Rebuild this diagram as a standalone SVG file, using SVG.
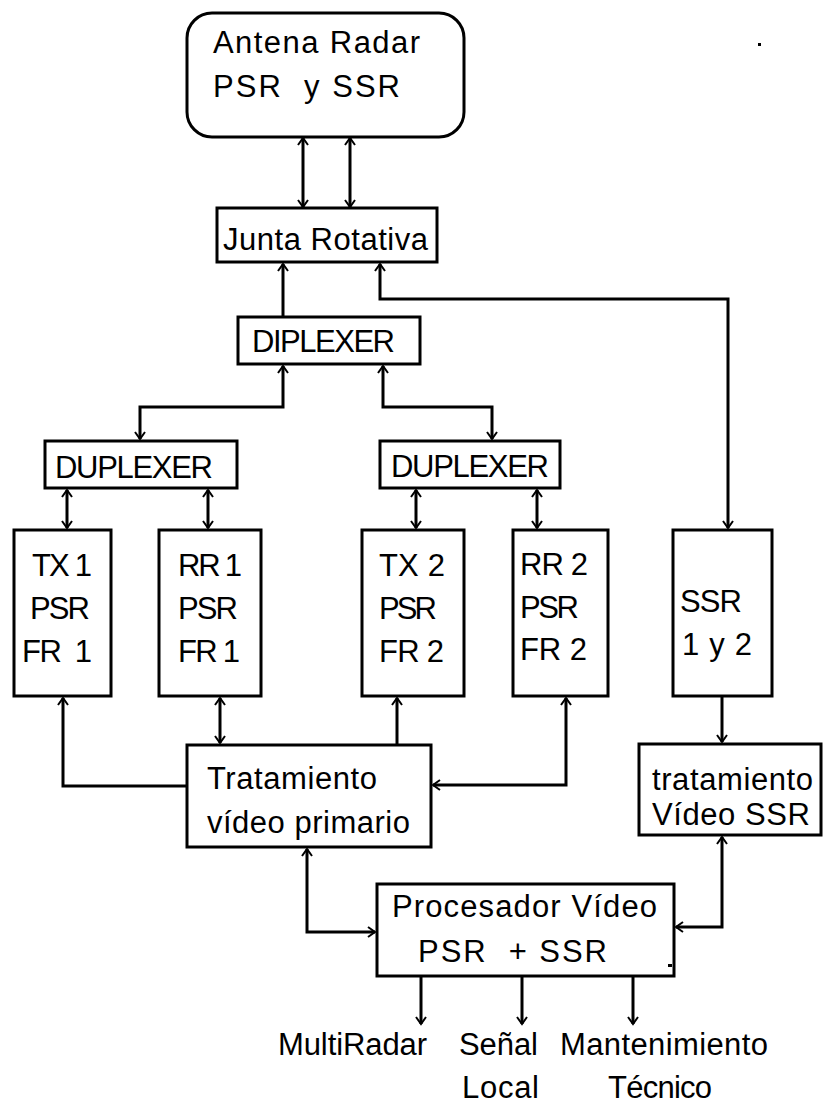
<svg xmlns="http://www.w3.org/2000/svg" width="823" height="1104" viewBox="0 0 823 1104">
<style>
.box{fill:#fff;stroke:#000;stroke-width:3}
.t{font-family:"Liberation Sans",Arial,sans-serif;font-size:31px;fill:#000;white-space:pre}
.c{fill:none;stroke:#000;stroke-width:3}
.a{marker-end:url(#ah)}
.b{marker-start:url(#ah);marker-end:url(#ah)}
</style>
<defs>
<marker id="ah" viewBox="-10 -8 12 16" refX="0" refY="0" markerWidth="12" markerHeight="16" markerUnits="userSpaceOnUse" orient="auto-start-reverse" overflow="visible">
<path d="M-7,-5 L0,0 L-7,5" fill="none" stroke="#000" stroke-width="2"/>
</marker>
</defs>
<rect width="823" height="1104" fill="#fff"/>

<g id="connectors">
<path class="c b" d="M303,138 V207"/>
<path class="c b" d="M350,138 V207"/>
<path class="c a" d="M283,317 V264"/>
<path class="c b" d="M380,264 V299 H728 V528"/>
<path class="c b" d="M283,366 V407 H140 V439"/>
<path class="c b" d="M383,366 V407 H492 V439"/>
<path class="c b" d="M67,490 V528"/>
<path class="c b" d="M208,490 V528"/>
<path class="c b" d="M416,490 V528"/>
<path class="c b" d="M537,490 V528"/>
<path class="c a" d="M187,786 H63 V698"/>
<path class="c b" d="M220,698 V743"/>
<path class="c a" d="M397,745 V698"/>
<path class="c b" d="M566,698 V785 H433"/>
<path class="c a" d="M722,696 V742"/>
<path class="c b" d="M307,849 V932 H375"/>
<path class="c b" d="M722,837 V927 H676"/>
<path class="c a" d="M421,976 V1024"/>
<path class="c a" d="M522,976 V1024"/>
<path class="c a" d="M633,976 V1024"/>
</g>

<g id="antena">
<rect class="box" x="187" y="13" width="277" height="124" rx="25" ry="25"/>
<text class="t" x="213" y="53" textLength="207" lengthAdjust="spacing">Antena Radar</text>
<text class="t" x="213" y="97" textLength="187" lengthAdjust="spacing">PSR  y SSR</text>
</g>
<rect x="758" y="43" width="3" height="3" fill="#000"/>

<g id="junta">
<rect class="box" x="217" y="208" width="220" height="54"/>
<text class="t" x="223" y="250" textLength="205" lengthAdjust="spacing">Junta Rotativa</text>
</g>

<g id="diplexer">
<rect class="box" x="238" y="317" width="182" height="47"/>
<text class="t" x="252" y="352" textLength="143" lengthAdjust="spacing">DIPLEXER</text>
</g>

<g id="duplexer1">
<rect class="box" x="45" y="441" width="192" height="47"/>
<text class="t" x="55" y="478" textLength="158" lengthAdjust="spacing">DUPLEXER</text>
</g>

<g id="duplexer2">
<rect class="box" x="380" y="441" width="180" height="47"/>
<text class="t" x="391" y="477" textLength="158" lengthAdjust="spacing">DUPLEXER</text>
</g>

<g id="tx1">
<rect class="box" x="14" y="530" width="97" height="166"/>
<text class="t" x="32" y="576" textLength="60" lengthAdjust="spacing">TX 1</text>
<text class="t" x="30" y="619" textLength="60" lengthAdjust="spacing">PSR</text>
<text class="t" x="22" y="662" textLength="70" lengthAdjust="spacing">FR  1</text>
</g>

<g id="rr1">
<rect class="box" x="159" y="530" width="102" height="166"/>
<text class="t" x="178" y="576" textLength="64" lengthAdjust="spacing">RR 1</text>
<text class="t" x="178" y="619" textLength="60" lengthAdjust="spacing">PSR</text>
<text class="t" x="178" y="662" textLength="62" lengthAdjust="spacing">FR 1</text>
</g>

<g id="tx2">
<rect class="box" x="362" y="530" width="102" height="166"/>
<text class="t" x="379" y="576" textLength="66" lengthAdjust="spacing">TX 2</text>
<text class="t" x="379" y="619" textLength="58" lengthAdjust="spacing">PSR</text>
<text class="t" x="379" y="662" textLength="65" lengthAdjust="spacing">FR 2</text>
</g>

<g id="rr2">
<rect class="box" x="513" y="530" width="95" height="166"/>
<text class="t" x="520" y="575" textLength="68" lengthAdjust="spacing">RR 2</text>
<text class="t" x="520" y="618" textLength="59" lengthAdjust="spacing">PSR</text>
<text class="t" x="520" y="660" textLength="67" lengthAdjust="spacing">FR 2</text>
</g>

<g id="ssr">
<rect class="box" x="673" y="530" width="99" height="166"/>
<text class="t" x="680" y="612" textLength="62" lengthAdjust="spacing">SSR</text>
<text class="t" x="682" y="655" textLength="70" lengthAdjust="spacing">1 y 2</text>
</g>

<g id="tratamiento-primario">
<rect class="box" x="187" y="745" width="244" height="102"/>
<text class="t" x="207" y="789" textLength="170" lengthAdjust="spacing">Tratamiento</text>
<text class="t" x="207" y="833" textLength="203" lengthAdjust="spacing">vídeo primario</text>
</g>

<g id="tratamiento-ssr">
<rect class="box" x="639" y="744" width="182" height="91"/>
<text class="t" x="652" y="790" textLength="161" lengthAdjust="spacing">tratamiento</text>
<text class="t" x="652" y="825" textLength="158" lengthAdjust="spacing">Vídeo SSR</text>
</g>

<g id="procesador">
<rect class="box" x="377" y="884" width="297" height="92"/>
<text class="t" x="392" y="917" textLength="265" lengthAdjust="spacing">Procesador Vídeo</text>
<text class="t" x="418" y="962" textLength="189" lengthAdjust="spacing">PSR  + SSR</text>
<rect x="668" y="964" width="4" height="3" fill="#000"/>
</g>

<g id="outputs">
<text class="t" x="278" y="1055" textLength="149" lengthAdjust="spacing">MultiRadar</text>
<text class="t" x="459" y="1055" textLength="79" lengthAdjust="spacing">Señal</text>
<text class="t" x="462" y="1098" textLength="77" lengthAdjust="spacing">Local</text>
<text class="t" x="560" y="1055" textLength="208" lengthAdjust="spacing">Mantenimiento</text>
<text class="t" x="608" y="1098" textLength="104" lengthAdjust="spacing">Técnico</text>
</g>
</svg>
